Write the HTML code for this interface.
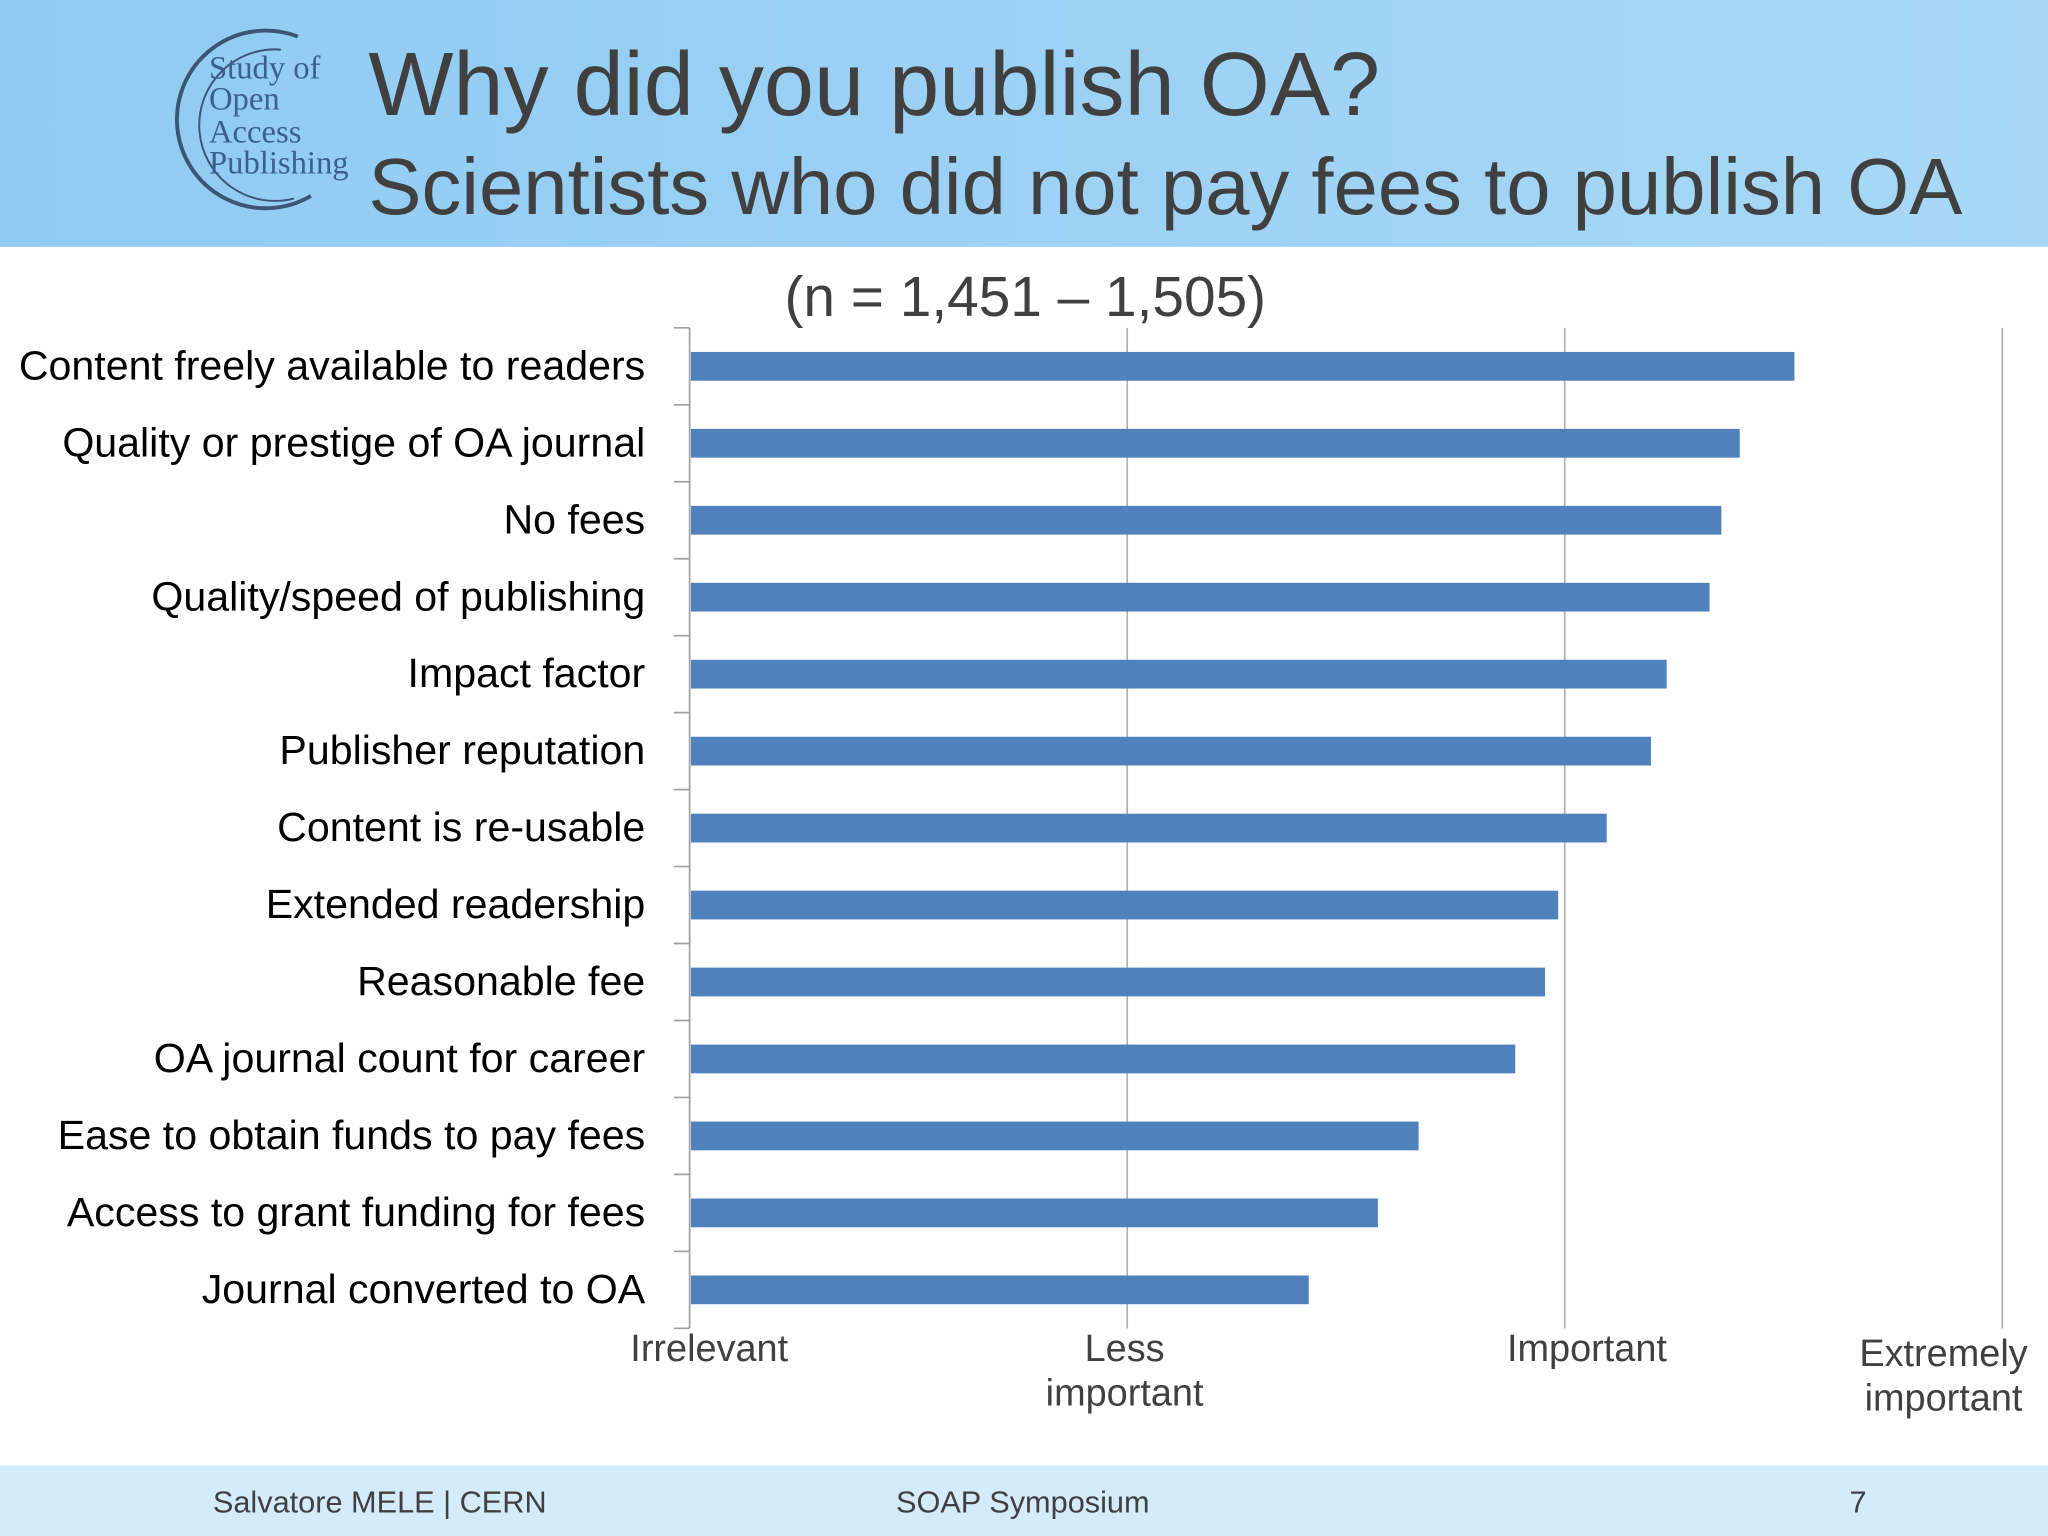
<!DOCTYPE html>
<html><head><meta charset="utf-8"><style>html,body{margin:0;padding:0;background:#fff}svg{display:block}</style></head>
<body>
<svg id="chart" width="2048" height="1536" viewBox="0 0 1568 1176" xmlns="http://www.w3.org/2000/svg" font-family="Liberation Sans, sans-serif">
<defs><linearGradient id="hdr" x1="0" x2="1" y1="0" y2="0"><stop offset="0" stop-color="#8FCBF3"/><stop offset="1" stop-color="#A9D8F7"/></linearGradient></defs>
<rect x="0" y="0" width="1568" height="189" fill="url(#hdr)"/>
<rect x="0" y="1122" width="1568" height="54" fill="#D3EBFB"/>
<g fill="none" stroke="#3C5475" stroke-width="3">
<path d="M228 28 A68 68 0 1 0 238 150"/>
<path d="M215 38 A58 58 0 1 0 225 152" stroke-width="1.5"/>
</g>
<g font-family="Liberation Serif, serif" fill="#3B5F8F">
<text x="160" y="60" font-size="25">Study of</text>
<text x="160" y="84" font-size="25">Open</text>
<text x="160" y="109" font-size="25">Access</text>
<text x="160" y="133" font-size="25">Publishing</text>
</g>
<text x="282" y="88" font-size="69" fill="#404040">Why did you publish OA?</text>
<text x="282" y="164" font-size="61" fill="#404040">Scientists who did not pay fees to publish OA</text>
<text x="785" y="242" font-size="43.5" fill="#404040" text-anchor="middle">(n = 1,451 – 1,505)</text>
<g id="plot"></g>
<text x="163" y="1158" font-size="23.5" fill="#404040">Salvatore MELE | CERN</text>
<text x="686" y="1158" font-size="23.5" fill="#404040">SOAP Symposium</text>
<text x="1416" y="1158" font-size="23.5" fill="#404040">7</text>
</svg>
<script>
const categories=["Content freely available to readers","Quality or prestige of OA journal","No fees","Quality/speed of publishing","Impact factor","Publisher reputation","Content is re-usable","Extended readership","Reasonable fee","OA journal count for career","Ease to obtain funds to pay fees","Access to grant funding for fees","Journal converted to OA"];
const values=[3.525,3.40,3.358,3.331,3.233,3.197,3.096,2.985,2.955,2.887,2.666,2.573,2.415];
const tickValues=[1,2,3,4];
const tickLabels=[["Irrelevant"],["Less","important"],["Important"],["Extremely","important"]];
const NS="http://www.w3.org/2000/svg";
const g=document.getElementById('plot');
const X0=528,X1=1533,Y0=251,Y1=1017;
const xs=v=>X0+(v-1)/(4-1)*(X1-X0);
const band=(Y1-Y0)/categories.length;
const ys=i=>Y0+band*(i+0.5);
function mk(t,a){const e=document.createElementNS(NS,t);for(const k in a)e.setAttribute(k,a[k]);g.appendChild(e);return e;}
tickValues.forEach((v,i)=>{
 if(i>0){const l=mk('line',{x1:xs(v),x2:xs(v),y1:Y0,y2:Y1,stroke:'#B0B0B0','stroke-width':1.3});
 
 }
 const off=[15,-2,17,-45][i];
 const t=mk('text',{x:xs(v)+off,y:1042+(i==3?4:0),'font-size':29,fill:'#404040','text-anchor':'middle'});
 
 
 tickLabels[i].forEach((s,j)=>{const ts=document.createElementNS(NS,'tspan');ts.setAttribute('x',xs(v)+off);ts.setAttribute('dy',j?34:0);ts.textContent=s;t.appendChild(ts);});
});
const ax=mk('line',{x1:X0,x2:X0,y1:Y0,y2:Y1,stroke:'#A0A0A0','stroke-width':1.3});


for(let i=0;i<=categories.length;i++){const tk=mk('line',{x1:X0-12,x2:X0,y1:Y0+band*i,y2:Y0+band*i,stroke:'#A0A0A0','stroke-width':1.3});
 
 }
categories.forEach((c,i)=>{
 const r=mk('rect',{x:X0+1,y:ys(i)-11,width:xs(values[i])-X0-1,height:22,fill:'#4F81BD'});
 
 
 const t=mk('text',{x:494,y:ys(i)+10,'font-size':31.5,fill:'#000','text-anchor':'end'});
 
 
 t.textContent=c;
});
</script>
</body></html>
